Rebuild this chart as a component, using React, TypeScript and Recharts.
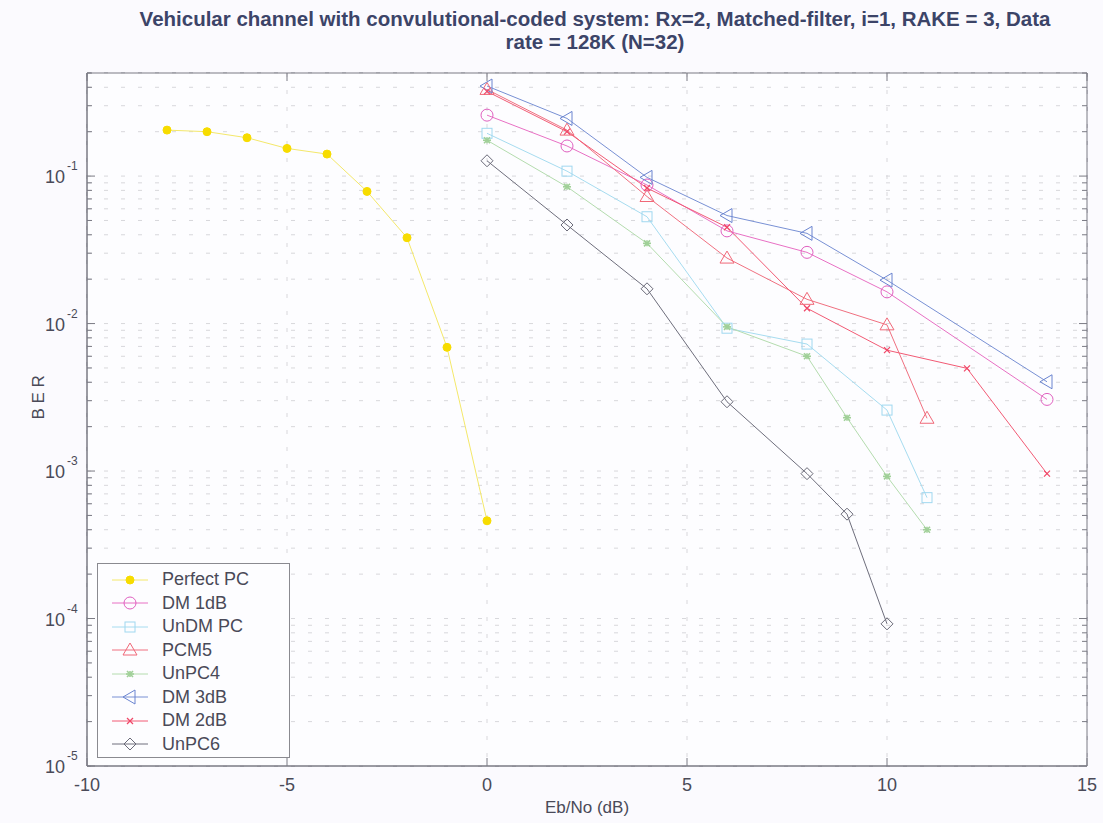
import React from 'react';
import { LineChart, Line, XAxis, YAxis, CartesianGrid, ReferenceArea } from 'recharts';

// ---------- data ----------
const perfectPcX = [-8, -7, -6, -5, -4, -3, -2, -1, 0];
const perfectPcBer = [0.205, 0.2, 0.182, 0.154, 0.141, 0.0787, 0.0382, 0.0069, 0.00046];

const dm1dBX = [0, 2, 4, 6, 8, 10, 14];
const dm1dBBer = [0.259, 0.16, 0.087, 0.0425, 0.0304, 0.0164, 0.00306];

const unDmPcX = [0, 2, 4, 6, 8, 10, 11];
const unDmPcBer = [0.195, 0.108, 0.053, 0.0093, 0.00726, 0.00259, 0.00066];

const pcm5X = [0, 2, 4, 6, 8, 10, 11];
const pcm5Ber = [0.387, 0.205, 0.0727, 0.0278, 0.0146, 0.0098, 0.00228];

const unPc4X = [0, 2, 4, 6, 8, 9, 10, 11];
const unPc4Ber = [0.175, 0.0846, 0.035, 0.0095, 0.006, 0.0023, 0.00092, 0.0004];

const dm3dBX = [0, 2, 4, 6, 8, 10, 14];
const dm3dBBer = [0.408, 0.246, 0.098, 0.054, 0.0409, 0.0197, 0.00403];

const dm2dBX = [0, 2, 4, 6, 8, 10, 12, 14];
const dm2dBBer = [0.375, 0.2, 0.083, 0.045, 0.0127, 0.0066, 0.00497, 0.00096];

const unPc6X = [0, 2, 4, 6, 8, 9, 10];
const unPc6Ber = [0.127, 0.0466, 0.0172, 0.00295, 0.00096, 0.00051, 0.000092];

const xTicks = [-10, -5, 0, 5, 10, 15];
const yDecades = [1e-5, 1e-4, 1e-3, 1e-2, 1e-1];
const yMultipliers = [1, 2, 3, 4, 5, 6, 7, 8, 9];
const yMax = 0.5;
const yTicks = yDecades.flatMap((d) => yMultipliers.map((m) => m * d)).filter((v) => v <= yMax + 1e-12);

const titleLine1 = 'Vehicular channel with convulutional-coded system: Rx=2, Matched-filter, i=1, RAKE = 3, Data';
const titleLine2 = 'rate = 128K (N=32)';
const xLabel = 'Eb/No (dB)';
const yLabel = 'B E R';

type MarkerKind = 'filledCircle' | 'circle' | 'square' | 'triUp' | 'star' | 'triLeft' | 'x' | 'diamond';

const zip = (xs: number[], ys: number[]) => xs.map((x, i) => ({ x, ber: ys[i] }));

const series: { name: string; data: { x: number; ber: number }[]; line: string; mark: string; marker: MarkerKind }[] = [
  { name: 'Perfect PC', data: zip(perfectPcX, perfectPcBer), line: '#f4e86a', mark: '#f7dc00', marker: 'filledCircle' },
  { name: 'DM 1dB', data: zip(dm1dBX, dm1dBBer), line: '#e870c4', mark: '#e060c0', marker: 'circle' },
  { name: 'UnDM PC', data: zip(unDmPcX, unDmPcBer), line: '#a6dcf0', mark: '#a0d8f0', marker: 'square' },
  { name: 'PCM5', data: zip(pcm5X, pcm5Ber), line: '#f07080', mark: '#f06878', marker: 'triUp' },
  { name: 'UnPC4', data: zip(unPc4X, unPc4Ber), line: '#b4dcae', mark: '#a0d098', marker: 'star' },
  { name: 'DM 3dB', data: zip(dm3dBX, dm3dBBer), line: '#7890d4', mark: '#6a84d0', marker: 'triLeft' },
  { name: 'DM 2dB', data: zip(dm2dBX, dm2dBBer), line: '#f25a74', mark: '#f04868', marker: 'x' },
  { name: 'UnPC6', data: zip(unPc6X, unPc6Ber), line: '#6e6e7c', mark: '#6a6a78', marker: 'diamond' },
];

function MarkerShape({ kind, cx, cy, color }: { kind: MarkerKind; cx: number; cy: number; color: string }) {
  const sw = 1;
  switch (kind) {
    case 'filledCircle':
      return <circle cx={cx} cy={cy} r={4} fill={color} stroke={color} />;
    case 'circle':
      return <circle cx={cx} cy={cy} r={6} fill="none" stroke={color} strokeWidth={sw} />;
    case 'square':
      return <rect x={cx - 5} y={cy - 5} width={10} height={10} fill="none" stroke={color} strokeWidth={sw} />;
    case 'triUp':
      return <polygon points={`${cx},${cy - 7} ${cx - 7},${cy + 5} ${cx + 7},${cy + 5}`} fill="none" stroke={color} strokeWidth={sw} />;
    case 'triLeft':
      return <polygon points={`${cx - 7},${cy} ${cx + 5},${cy - 7} ${cx + 5},${cy + 7}`} fill="none" stroke={color} strokeWidth={sw} />;
    case 'diamond':
      return <polygon points={`${cx},${cy - 6} ${cx + 6},${cy} ${cx},${cy + 6} ${cx - 6},${cy}`} fill="none" stroke={color} strokeWidth={sw} />;
    case 'x':
      return (
        <g stroke={color} strokeWidth={1.2}>
          <line x1={cx - 3} y1={cy - 3} x2={cx + 3} y2={cy + 3} />
          <line x1={cx - 3} y1={cy + 3} x2={cx + 3} y2={cy - 3} />
        </g>
      );
    case 'star':
      return (
        <g stroke={color} strokeWidth={1.6}>
          <line x1={cx - 4} y1={cy} x2={cx + 4} y2={cy} />
          <line x1={cx - 3} y1={cy - 3} x2={cx + 3} y2={cy + 3} />
          <line x1={cx - 3} y1={cy + 3} x2={cx + 3} y2={cy - 3} />
          <line x1={cx} y1={cy - 3} x2={cx} y2={cy + 3} />
        </g>
      );
  }
  return null;
}

const makeDot = (kind: MarkerKind, color: string) => (props: any) => {
  const { cx, cy, index } = props;
  if (cx == null || cy == null) return <g key={`d-${index}`} />;
  return (
    <g key={`d-${kind}-${index}`}>
      <MarkerShape kind={kind} cx={cx} cy={cy} color={color} />
    </g>
  );
};

const textColor = '#4a4a58';
const fontFamily = 'Liberation Sans, Arial, Helvetica, sans-serif';

const isDecade = (v: number) => Math.abs(Math.log10(v) - Math.round(Math.log10(v))) < 1e-9;

const YTick = (props: any) => {
  const { x, y, payload } = props;
  const v = payload.value as number;
  const major = isDecade(v);
  const exp = Math.round(Math.log10(v));
  return (
    <g>
      <line x1={x} y1={y} x2={x + (major ? 8 : 5)} y2={y} stroke="#7a7a84" strokeWidth={1} />
      <line x1={1087} y1={y} x2={1087 - (major ? 8 : 5)} y2={y} stroke="#7a7a84" strokeWidth={1} />
      {major && (
        <text fontFamily={fontFamily} fill={textColor}>
          <tspan x={x - 22} y={y + 7} fontSize={18} textAnchor="end">10</tspan>
          <tspan x={x - 20} y={y - 6} fontSize={12} textAnchor="start">{String(exp)}</tspan>
        </text>
      )}
    </g>
  );
};

const XTick = (props: any) => {
  const { x, y, payload } = props;
  return (
    <g>
      <line x1={x} y1={y} x2={x} y2={y - 8} stroke="#7a7a84" strokeWidth={1} />
      <line x1={x} y1={73} x2={x} y2={81} stroke="#7a7a84" strokeWidth={1} />
      <text x={x} y={y + 25} fontSize={18} fontFamily={fontFamily} fill={textColor} textAnchor="middle">
        {String(payload.value)}
      </text>
    </g>
  );
};

const LegendBox = () => (
  <div
    style={{
      position: 'absolute',
      left: 97,
      top: 563,
      width: 193,
      height: 195,
      border: '1px solid #8a8a90',
      background: '#fdfdff',
      boxSizing: 'border-box',
      paddingTop: 4,
    }}
  >
    {series.map((s) => (
      <div key={s.name} style={{ display: 'flex', alignItems: 'center', height: 23.5 }}>
        <svg width={64} height={20} style={{ flex: 'none' }}>
          <line x1={14} y1={10} x2={50} y2={10} stroke={s.line} strokeWidth={1} />
          <MarkerShape kind={s.marker} cx={32} cy={10} color={s.mark} />
        </svg>
        <span style={{ fontFamily, fontSize: 18, color: textColor, whiteSpace: 'nowrap' }}>{s.name}</span>
      </div>
    ))}
  </div>
);

export default function App() {
  return (
    <div style={{ position: 'absolute', left: 0, top: 0, width: 1103, height: 823, background: '#fbfafe' }}>
      <div
        style={{
          position: 'absolute',
          left: 87,
          width: 1016,
          top: 7,
          textAlign: 'center',
          fontFamily,
          fontWeight: 'bold',
          fontSize: 20.5,
          lineHeight: '23px',
          color: '#3c4468',
        }}
      >
        <div>{titleLine1}</div>
        <div>{titleLine2}</div>
      </div>
      <div style={{ position: 'absolute', left: 0, top: 0 }}>
        <LineChart width={1103} height={823} margin={{ top: 73, right: 16, bottom: 0, left: 0 }}>
          <ReferenceArea x1={-10} x2={15} y1={1e-5} y2={yMax} fill="#ffffff" fillOpacity={0.6} stroke="none" ifOverflow="hidden" />
          <CartesianGrid stroke="#9c9ca6" strokeDasharray="4 13" strokeWidth={1} />
          <XAxis
            type="number"
            dataKey="x"
            domain={[-10, 15]}
            ticks={xTicks}
            allowDataOverflow
            height={57}
            tickSize={0}
            tickMargin={0}
            tick={<XTick />}
            axisLine={{ stroke: '#7a7a84' }}
            label={{ value: xLabel, position: 'insideBottom', offset: 10, fill: textColor, fontSize: 17, fontFamily }}
          />
          <YAxis
            type="number"
            scale="log"
            domain={[1e-5, yMax]}
            ticks={yTicks}
            allowDataOverflow
            width={87}
            tickSize={0}
            tickMargin={0}
            tick={<YTick />}
            interval={0}
            axisLine={{ stroke: '#7a7a84' }}
            label={{ value: yLabel, angle: -90, position: 'insideLeft', offset: 38, fill: textColor, fontSize: 17, fontFamily }}
          />
          <ReferenceArea x1={-10} x2={15} y1={1e-5} y2={yMax} fill="none" stroke="#7a7a84" strokeWidth={1} ifOverflow="visible" />
          {series.map((s) => (
            <Line
              key={s.name}
              name={s.name}
              data={s.data}
              dataKey="ber"
              type="linear"
              stroke={s.line}
              strokeWidth={1}
              dot={makeDot(s.marker, s.mark)}
              activeDot={false}
              isAnimationActive={false}
            />
          ))}
        </LineChart>
      </div>
      <LegendBox />
    </div>
  );
}
